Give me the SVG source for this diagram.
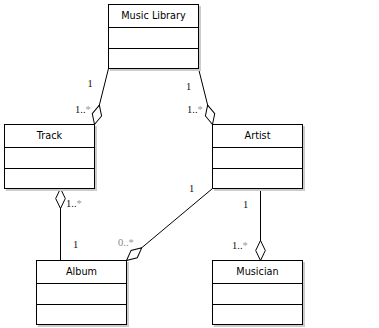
<svg xmlns="http://www.w3.org/2000/svg" width="379" height="328" viewBox="0 0 379 328">
<style>
.shadow{fill:#cccccc;stroke:none}
.box{fill:#fff;stroke:#000;stroke-width:1}
.div{stroke:#000;stroke-width:1}
.name{font-family:"DejaVu Sans",sans-serif;font-size:9.7px;fill:#000;text-anchor:middle}
.conn{stroke:#000;stroke-width:1;fill:none;marker-end:url(#diamond)}
.lbl{font-family:"Liberation Serif",serif;font-size:10.5px;fill:#111}
.star{fill:#999}
.grey{fill:#888}
</style>
<defs>
<marker id="diamond" markerUnits="userSpaceOnUse" viewBox="0 -6 21 12" markerWidth="21" markerHeight="12" refX="20" refY="0" orient="auto">
<path d="M0,0 L10,-4.8 L20,0 L10,4.8 Z" fill="#fff" stroke="#000" stroke-width="1"/>
</marker>
</defs>
<rect width="379" height="328" fill="#fff"/>

<g id="connectors">
<line class="conn" x1="108.5" y1="68.5" x2="94.5" y2="124.5"/>
<line class="conn" x1="198.5" y1="68.5" x2="212.5" y2="124.5"/>
<line class="conn" x1="60.5" y1="260.5" x2="60.5" y2="188.5"/>
<line class="conn" x1="212.5" y1="188.5" x2="126.5" y2="260.5"/>
<line class="conn" x1="260.5" y1="188.5" x2="260.5" y2="260.5"/>
</g>

<g id="music-library">
<rect class="shadow" x="110" y="6" width="91" height="65"/>
<rect class="box" x="108.5" y="4.5" width="90" height="64"/>
<line class="div" x1="108.5" y1="27.5" x2="198.5" y2="27.5"/>
<line class="div" x1="108.5" y1="48.5" x2="198.5" y2="48.5"/>
<text class="name" x="153.5" y="19">Music Library</text>
</g>

<g id="track">
<rect class="shadow" x="6" y="126" width="91" height="65"/>
<rect class="box" x="4.5" y="124.5" width="90" height="64"/>
<line class="div" x1="4.5" y1="147.5" x2="94.5" y2="147.5"/>
<line class="div" x1="4.5" y1="168.5" x2="94.5" y2="168.5"/>
<text class="name" x="49.5" y="139">Track</text>
</g>

<g id="artist">
<rect class="shadow" x="214" y="126" width="91" height="65"/>
<rect class="box" x="212.5" y="124.5" width="90" height="64"/>
<line class="div" x1="212.5" y1="147.5" x2="302.5" y2="147.5"/>
<line class="div" x1="212.5" y1="168.5" x2="302.5" y2="168.5"/>
<text class="name" x="257.5" y="139">Artist</text>
</g>

<g id="album">
<rect class="shadow" x="38" y="262" width="91" height="65"/>
<rect class="box" x="36.5" y="260.5" width="90" height="64"/>
<line class="div" x1="36.5" y1="283.5" x2="126.5" y2="283.5"/>
<line class="div" x1="36.5" y1="304.5" x2="126.5" y2="304.5"/>
<text class="name" x="81.5" y="275">Album</text>
</g>

<g id="musician">
<rect class="shadow" x="214" y="262" width="91" height="65"/>
<rect class="box" x="212.5" y="260.5" width="90" height="64"/>
<line class="div" x1="212.5" y1="283.5" x2="302.5" y2="283.5"/>
<line class="div" x1="212.5" y1="304.5" x2="302.5" y2="304.5"/>
<text class="name" x="257.5" y="275">Musician</text>
</g>

<g id="labels">
<text class="lbl" x="87.5" y="87">1</text>
<text class="lbl" x="75" y="113">1..<tspan class="star">*</tspan></text>
<text class="lbl" x="186" y="90">1</text>
<text class="lbl" x="187" y="113">1..<tspan class="star">*</tspan></text>
<text class="lbl" x="66" y="207">1..<tspan class="star">*</tspan></text>
<text class="lbl" x="73" y="248">1</text>
<text class="lbl grey" x="118" y="246">0..<tspan class="star">*</tspan></text>
<text class="lbl" x="189" y="192">1</text>
<text class="lbl" x="243" y="208">1</text>
<text class="lbl" x="232" y="249">1..<tspan class="star">*</tspan></text>
</g>
</svg>
